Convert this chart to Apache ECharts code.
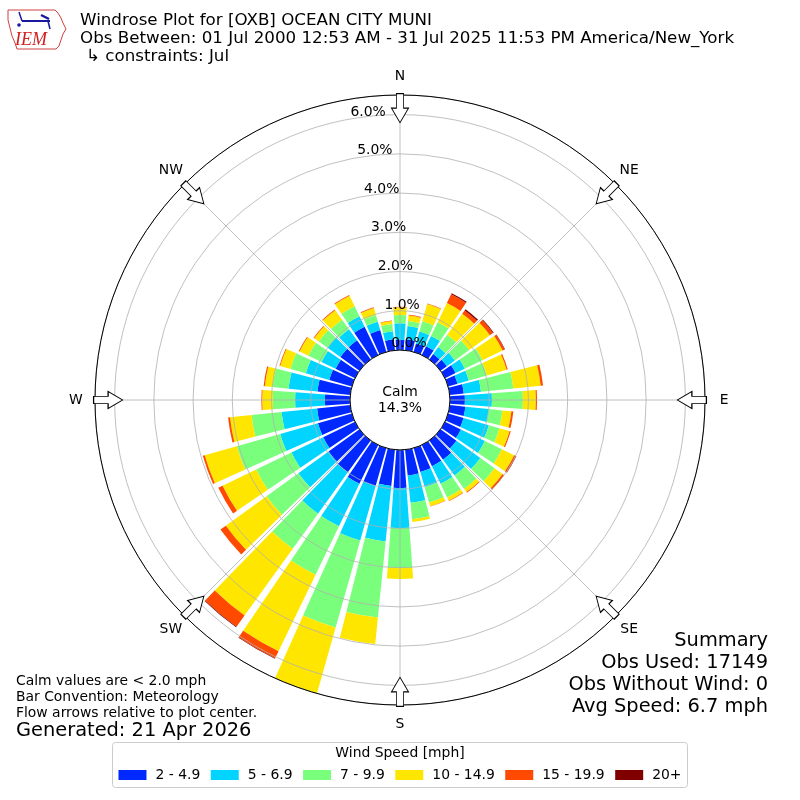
<!DOCTYPE html>
<html>
<head>
<meta charset="utf-8">
<script src="https://cdn.jsdelivr.net/npm/echarts@6/dist/echarts.min.js"></script>
<style>
html,body{margin:0;padding:0;background:#fff;}
#c{width:800px;height:800px;}
</style>
</head>
<body>
<div id="c"></div>
<script>
// ---------- data (percent of observations, by direction the wind blows FROM) ----------
const directions = ['0','10','20','30','40','50','60','70','80','90',
  '100','110','120','130','140','150','160','170','180','190',
  '200','210','220','230','240','250','260','270','280','290',
  '300','310','320','330','340','350'];

const speed_2_4_9 = [0.26,0.28,0.22,0.25,0.17,0.20,0.30,0.25,0.36,0.38,
  0.40,0.41,0.45,0.50,0.60,0.60,0.63,0.66,0.97,0.93,
  1.00,1.10,1.00,0.97,0.90,0.90,0.85,0.64,0.84,0.60,
  0.55,0.60,0.60,0.80,0.58,0.28];
const speed_5_6_9 = [0.42,0.34,0.32,0.29,0.22,0.25,0.26,0.30,0.44,0.69,
  0.60,0.67,0.68,0.75,0.50,0.50,0.40,0.70,1.02,1.42,
  1.45,1.20,1.30,0.95,0.90,1.00,0.91,0.76,0.74,0.62,
  0.40,0.40,0.35,0.30,0.22,0.21];
const speed_7_9_9 = [0.21,0.13,0.27,0.39,0.39,0.45,0.50,0.48,0.83,0.79,
  0.35,0.28,0.48,0.45,0.42,0.38,0.41,0.42,1.02,1.95,
  2.30,1.37,1.10,1.00,1.00,1.15,0.77,0.57,0.41,0.41,
  0.37,0.28,0.30,0.28,0.18,0.18];
const speed_10_14_9 = [0.20,0.14,0.46,0.54,0.66,0.65,0.57,0.52,0.70,0.33,
  0.23,0.27,0.35,0.25,0.10,0.10,0.10,0.07,0.28,0.68,
  1.75,2.17,2.10,1.28,0.95,0.85,0.55,0.27,0.20,0.27,
  0.25,0.14,0.30,0.30,0.18,0.08];
const speed_15_19_9 = [0.01,0.02,0.01,0.25,0.10,0.10,0.06,0.03,0.06,0.03,
  0.05,0.03,0.05,0.05,0.02,0.01,0.01,0.00,0.00,0.00,
  0.00,0.20,0.35,0.17,0.12,0.05,0.05,0.02,0.03,0.02,
  0.02,0.02,0.02,0.02,0.02,0.01];
const speed_20_plus = [0,0,0,0.03,0.04,0.02,0.01,0,0,0,
  0,0,0.01,0,0,0,0,0,0,0,
  0,0.01,0.02,0,0,0,0,0,0,0,
  0,0,0,0,0,0];

const speedBinNames = ['2 - 4.9','5 - 6.9','7 - 9.9','10 - 14.9','15 - 19.9','20+'];
const speedBinColors = ['#0028ff','#00d4ff','#7aff7d','#ffe600','#ff4a00','#800000'];
const compassLabels = ['N','NE','E','SE','S','SW','W','NW'];
const compassAngles = [0,45,90,135,180,225,270,315];
const radialTickValues = [0,1,2,3,4,5,6];

const calmPercent = '14.3%';
const titleLines = [
  'Windrose Plot for [OXB] OCEAN CITY MUNI',
  'Obs Between: 01 Jul 2000 12:53 AM - 31 Jul 2025 11:53 PM America/New_York',
  '\u21b3 constraints: Jul'
];
const noteLines = ['Calm values are < 2.0 mph','Bar Convention: Meteorology','Flow arrows relative to plot center.'];
const generatedText = 'Generated: 21 Apr 2026';
const summaryLines = ['Summary','Obs Used: 17149','Obs Without Wind: 0','Avg Speed: 6.7 mph'];
const legendTitle = 'Wind Speed [mph]';

// ---------- chart ----------
const FONT = 'DejaVu Sans';
const RMAX = 6.5;
const ARROW_R = 6.166;         // radial position of the flow arrows (axis units)
const COMPASS_LABEL_R = 6.985; // radial position of compass labels (axis units)
const binData = [speed_2_4_9, speed_5_6_9, speed_7_9_9, speed_10_14_9, speed_15_19_9, speed_20_plus];

const chart = echarts.init(document.getElementById('c'), null, {renderer: 'canvas'});

const barSeries = binData.map((d, i) => ({
  type: 'bar',
  name: speedBinNames[i],
  coordinateSystem: 'polar',
  polarIndex: 0,
  stack: 'wind',
  data: d,
  barCategoryGap: '16%',
  itemStyle: {color: speedBinColors[i]},
  z: 2,
  silent: true
}));

const graphics = [];
titleLines.forEach((t, i) => {
  graphics.push({type: 'text', left: i === 2 ? 86 : 80, top: 12.5 + i * 18,
    style: {text: t, font: '16.7px "' + FONT + '"', fill: '#000'}});
});
noteLines.forEach((t, i) => {
  graphics.push({type: 'text', left: 16, top: 674.5 + i * 16,
    style: {text: t, font: '13.9px "' + FONT + '"', fill: '#000'}});
});
graphics.push({type: 'text', left: 16, top: 721,
  style: {text: generatedText, font: '19.4px "' + FONT + '"', fill: '#000'}});
summaryLines.forEach((t, i) => {
  graphics.push({type: 'text', right: 32, top: 631 + i * 22,
    style: {text: t, font: '19.4px "' + FONT + '"', fill: '#000', align: 'right'}});
});
graphics.push({type: 'text', x: 400, y: 400, z: 10,
  style: {text: 'Calm\n' + calmPercent, font: '13.9px "' + FONT + '"', fill: '#000', align: 'center', verticalAlign: 'middle', lineHeight: 16}});
// legend frame and title
graphics.push({type: 'rect', shape: {x: 112.5, y: 742.5, width: 575, height: 45, r: 3}, z: 0,
  style: {fill: '#fff', stroke: '#cccccc', lineWidth: 1}});
graphics.push({type: 'text', x: 400, y: 753.5, z: 5,
  style: {text: legendTitle, font: '13.9px "' + FONT + '"', fill: '#000', align: 'center', verticalAlign: 'middle'}});
// simple IEM logo
graphics.push({type: 'polyline', z: 5, shape: {points: [[8,10],[55,10],[58,13],[61,18],[63,23],[66,29],[63,34],[61,40],[59,46],[56,49],[17,49],[15,43],[12,36],[10,28],[8,20],[8,10]]},
  style: {stroke: '#d04040', lineWidth: 1, fill: null}});
graphics.push({type: 'line', z: 5, shape: {x1: 22, y1: 21, x2: 50, y2: 21}, style: {stroke: '#1a1aa0', lineWidth: 2}});
graphics.push({type: 'line', z: 5, shape: {x1: 19, y1: 12, x2: 22, y2: 21}, style: {stroke: '#1a1aa0', lineWidth: 1.5}});
graphics.push({type: 'line', z: 5, shape: {x1: 41, y1: 15, x2: 49, y2: 19}, style: {stroke: '#1a1aa0', lineWidth: 2.5}});
graphics.push({type: 'line', z: 5, shape: {x1: 48, y1: 21, x2: 50, y2: 29}, style: {stroke: '#1a1aa0', lineWidth: 1.5}});
graphics.push({type: 'circle', z: 5, shape: {cx: 19, cy: 25, r: 1.8}, style: {fill: '#1a1aa0'}});
graphics.push({type: 'text', z: 5, left: 15, top: 31,
  style: {text: 'IEM', font: 'italic 18px "Liberation Serif"', fill: '#d02020'}});

const option = {
  animation: false,
  backgroundColor: '#ffffff',
  textStyle: {fontFamily: FONT},
  polar: [
    {center: [400, 400], radius: [50, 305]},
    {center: [400, 400], radius: [50, 305]},
    {center: [400, 400], radius: [50, 305]}
  ],
  angleAxis: [
    {polarIndex: 0, type: 'category', data: directions, startAngle: 95, clockwise: true, boundaryGap: true,
      axisLine: {show: false}, axisTick: {show: false}, axisLabel: {show: false}, splitLine: {show: false}, splitArea: {show: false}},
    {polarIndex: 1, type: 'value', min: 0, max: 360, interval: 45, startAngle: 90, clockwise: true, z: 4,
      axisLine: {show: true, lineStyle: {color: '#000', width: 1}},
      axisTick: {show: false},
      axisLabel: {show: false},
      splitLine: {show: true, lineStyle: {color: '#b0b0b0', width: 0.8}},
      splitArea: {show: false}},
    {polarIndex: 2, type: 'value', min: 0, max: 360, startAngle: 100, clockwise: true,
      axisLine: {show: false}, axisTick: {show: false}, axisLabel: {show: false}, splitLine: {show: false}, splitArea: {show: false}}
  ],
  radiusAxis: [
    {polarIndex: 0, type: 'value', min: 0, max: RMAX,
      axisLine: {show: false}, axisTick: {show: false}, axisLabel: {show: false}, splitLine: {show: false}, splitArea: {show: false}},
    {polarIndex: 1, type: 'value', min: 0, max: RMAX, interval: 1, z: 3,
      axisLine: {show: false}, axisTick: {show: false}, axisLabel: {show: false},
      splitLine: {show: true, lineStyle: {color: '#b0b0b0', width: 0.8}}, splitArea: {show: false}},
    {polarIndex: 2, type: 'value', min: 0, max: RMAX, interval: 1, z: 6,
      axisLine: {show: false}, axisTick: {show: false}, splitLine: {show: false}, splitArea: {show: false},
      axisLabel: {show: true, margin: 0, align: 'left', verticalAlign: 'bottom', color: '#000', fontSize: 13.9, fontFamily: FONT,
        formatter: v => radialTickValues.indexOf(Math.round(v * 1000) / 1000) >= 0 ? v.toFixed(1) + '%' : ''}}
  ],
  legend: {
    show: true, left: 'center', top: 768, padding: 0,
    itemWidth: 28, itemHeight: 10, itemGap: 10.5, icon: 'rect',
    selectedMode: false,
    data: speedBinNames,
    textStyle: {fontSize: 13.9, color: '#000', fontFamily: FONT, padding: [0, 0, 0, 4]}
  },
  series: barSeries.concat([{
    type: 'scatter',
    coordinateSystem: 'polar',
    polarIndex: 1,
    clip: false,
    symbol: 'path://M29,0L71,0L71,50L100,50L50,100L0,50L29,50Z',
    symbolSize: [17, 29],
    itemStyle: {color: '#ffffff', borderColor: '#000000', borderWidth: 1, opacity: 1},
    z: 7,
    silent: true,
    data: compassAngles.map(a => ({value: [ARROW_R, a], symbolRotate: -a}))
  }, {
    type: 'scatter',
    coordinateSystem: 'polar',
    polarIndex: 1,
    clip: false,
    symbol: 'circle',
    symbolSize: 2,
    itemStyle: {color: '#ffffff', opacity: 0},
    z: 7,
    silent: true,
    label: {show: true, position: 'inside', formatter: '{b}', color: '#000', opacity: 1, fontSize: 13.9, fontFamily: FONT},
    labelLayout: {hideOverlap: false},
    data: compassAngles.map((a, i) => ({value: [COMPASS_LABEL_R, a], name: compassLabels[i]}))
  }]),
  graphic: graphics
};
chart.setOption(option);
</script>
</body>
</html>
